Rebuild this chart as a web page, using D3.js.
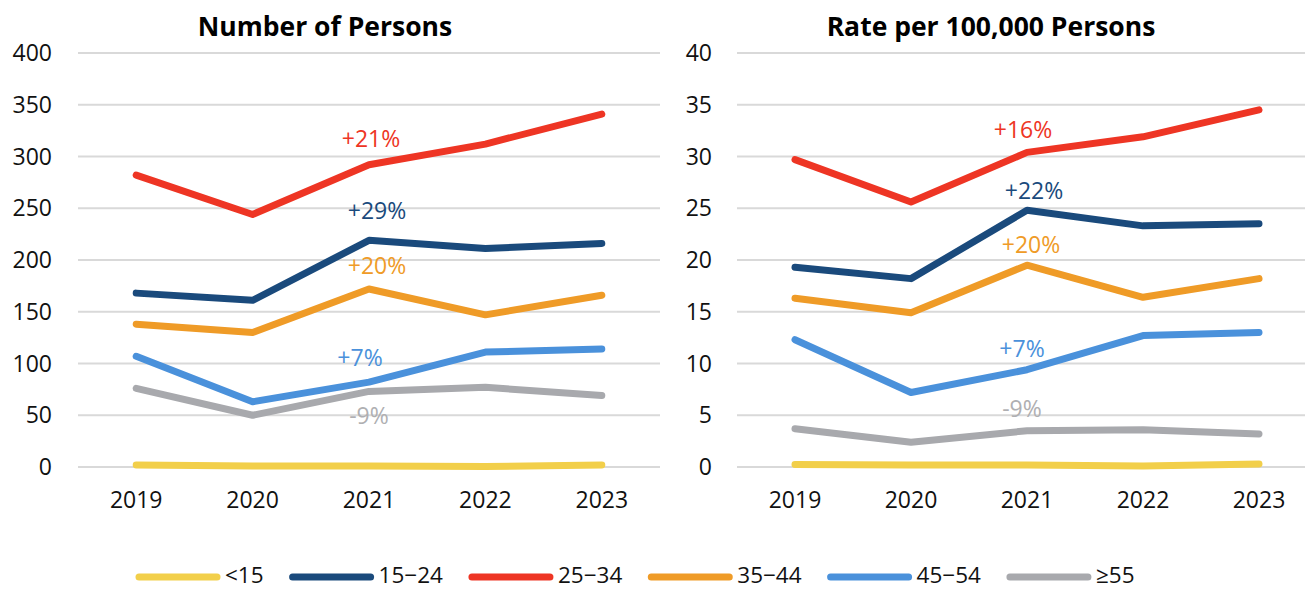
<!DOCTYPE html>
<html>
<head>
<meta charset="utf-8">
<script src="https://cdn.jsdelivr.net/npm/d3@7"></script>
<style>
  body { margin: 0; background: #fff; }
  svg { display: block; font-family: "Open Sans", sans-serif; }
</style>
</head>
<body>
<div class="output"><svg width="1305" height="590"></svg></div>
<script>
// data
var years = ["2019", "2020", "2021", "2022", "2023"];
var groups = ["<15", "15\u221224", "25\u221234", "35\u221244", "45\u221254", "\u226555"];
var colors = ["#F2CF4A", "#1A4A7C", "#EE3524", "#EF9B27", "#4A91DB", "#A8A9AD"];

// number of persons
var countLt15 = [2, 1, 1, 0.5, 2];
var count1524 = [168, 161, 219, 211, 216];
var count2534 = [282, 244, 292, 312, 341];
var count3544 = [138, 130, 172, 147, 166];
var count4554 = [107, 63, 82, 111, 114];
var count55 = [76, 50, 73, 77, 69];

// rate per 100,000
var rateLt15 = [0.25, 0.2, 0.2, 0.1, 0.3];
var rate1524 = [19.3, 18.2, 24.8, 23.3, 23.5];
var rate2534 = [29.7, 25.6, 30.4, 31.9, 34.5];
var rate3544 = [16.3, 14.9, 19.5, 16.4, 18.2];
var rate4554 = [12.3, 7.2, 9.4, 12.7, 13.0];
var rate55 = [3.7, 2.4, 3.5, 3.6, 3.2];

// change labels (group index, text)
var countNotes = [[2, "+21%"], [1, "+29%"], [3, "+20%"], [4, "+7%"], [5, "-9%"]];
var rateNotes = [[2, "+16%"], [1, "+22%"], [3, "+20%"], [4, "+7%"], [5, "-9%"]];

var svg = d3.select("div.output svg");

//------------------------------------ PANELS ------------------------------------
function panel(opt) {
  var g = svg.append("g");

  var x = d3.scalePoint().domain(years).range(opt.xr).padding(0.5);
  var y = d3.scaleLinear().domain([0, opt.max]).range([467, 53]);

  // gridlines
  g.selectAll("line.grid")
    .data(y.ticks(8))
    .enter().append("line")
      .attr("class", "grid")
      .attr("x1", opt.xr[0]).attr("x2", opt.xr[1])
      .attr("y1", function(d){ return y(d); })
      .attr("y2", function(d){ return y(d); })
      .attr("stroke", "#D9D9D9")
      .attr("stroke-width", 2);

  // y tick labels
  g.selectAll("text.ytick")
    .data(y.ticks(8))
    .enter().append("text")
      .attr("class", "ytick")
      .attr("x", opt.labelX)
      .attr("y", function(d){ return y(d); })
      .attr("dy", "0.35em")
      .attr("text-anchor", "end")
      .attr("font-size", "23px")
      .attr("fill", "#111")
      .text(function(d){ return d; });

  // x tick labels
  g.selectAll("text.xtick")
    .data(years)
    .enter().append("text")
      .attr("class", "xtick")
      .attr("x", function(d){ return x(d); })
      .attr("y", 500)
      .attr("dy", "0.35em")
      .attr("text-anchor", "middle")
      .attr("font-size", "23px")
      .attr("fill", "#111")
      .text(function(d){ return d; });

  // lines
  var line = d3.line()
    .x(function(d, i){ return x(years[i]); })
    .y(function(d){ return y(d); });

  opt.series.forEach(function(s, i) {
    g.append("path")
      .datum(s)
      .attr("d", line)
      .attr("fill", "none")
      .attr("stroke", colors[i])
      .attr("stroke-width", 7)
      .attr("stroke-linejoin", "round")
      .attr("stroke-linecap", "round");
  });

  // change labels
  opt.notes.forEach(function(n, i) {
    g.append("text")
      .attr("x", x("2021") + opt.noteDx[i])
      .attr("y", opt.noteY[i])
      .attr("dy", "0.35em")
      .attr("text-anchor", "middle")
      .attr("font-size", "23px")
      .attr("fill", n[0] === 5 ? "#AFAFB2" : colors[n[0]])
      .text(n[1]);
  });

  // title
  g.append("text")
    .attr("x", opt.titleX)
    .attr("y", 27)
    .attr("dy", "0.35em")
    .attr("text-anchor", "middle")
    .attr("font-size", "26.5px")
    .attr("font-weight", "bold")
    .attr("fill", "#000")
    .text(opt.title);
}

panel({
  title: "Number of Persons", titleX: 325,
  xr: [78, 660], labelX: 52, max: 400,
  series: [countLt15, count1524, count2534, count3544, count4554, count55],
  notes: countNotes,
  noteDx: [2, 8, 8, -9, 0], noteY: [139, 211, 266, 358, 416]
});

panel({
  title: "Rate per 100,000 Persons", titleX: 991,
  xr: [737, 1317], labelX: 712, max: 40,
  series: [rateLt15, rate1524, rate2534, rate3544, rate4554, rate55],
  notes: rateNotes,
  noteDx: [-4, 7, 4, -5, -5], noteY: [130, 191, 245, 349, 409]
});

//------------------------------------ LEGEND ------------------------------------
var legend = svg.append("g");
var lx = 136;
groups.forEach(function(name, i) {
  var item = legend.append("g").attr("transform", "translate(" + lx + ",577)");
  item.append("line")
    .attr("x1", 3).attr("x2", 81)
    .attr("stroke", colors[i])
    .attr("stroke-width", 7)
    .attr("stroke-linecap", "round");
  var t = item.append("text")
    .attr("x", 89)
    .attr("y", 6)
    .attr("font-size", "22.5px")
    .attr("fill", "#111")
    .text(name);
  lx += 89 + t.node().getComputedTextLength() + 26;
});
</script>
</body>
</html>
